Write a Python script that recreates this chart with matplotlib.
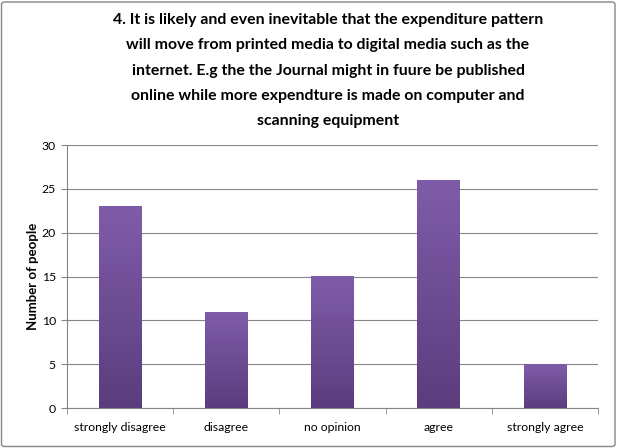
import matplotlib
matplotlib.use("Agg")
import matplotlib.pyplot as plt
import numpy as np
from matplotlib.patches import FancyBboxPatch
from matplotlib.colors import LinearSegmentedColormap

categories = ["strongly disagree", "disagree", "no opinion", "agree", "strongly agree"]
values = [23, 11, 15, 26, 5]
title = ("4. It is likely and even inevitable that the expenditure pattern\n"
         "will move from printed media to digital media such as the\n"
         "internet. E.g the the Journal might in fuure be published\n"
         "online while more expendture is made on computer and\n"
         "scanning equipment")
ylabel = "Number of people"

plt.rcParams['font.family'] = ['Lato', 'DejaVu Sans']

W, H = 617, 448
fig = plt.figure(figsize=(W/100, H/100), dpi=100)
fig.patch.set_facecolor('white')

border = FancyBboxPatch((1.5/W, 1.5/H), 1-3.5/W, 1-3.5/H, boxstyle="round,pad=0,rounding_size=0.005",
                        transform=fig.transFigure, fill=False, edgecolor='#868686', linewidth=1.0)
fig.patches.append(border)

left, right = 67/W, 598/W
bottom, top = 1-408/H, 1-145/H
ax = fig.add_axes([left, bottom, right-left, top-bottom])

x = np.arange(len(categories))
bars = ax.bar(x, values, width=0.4, color='#6E4E96', edgecolor='none', zorder=2)

grad = np.linspace(0, 1, 256).reshape(-1, 1)
cmap = LinearSegmentedColormap.from_list('p', ['#5B3D7E', '#7F5CA9'])
for b in bars:
    bx, by, bw, bh = b.get_x(), b.get_y(), b.get_width(), b.get_height()
    im = ax.imshow(grad, extent=[bx, bx+bw, by, by+bh], origin='lower', cmap=cmap,
                   aspect='auto', zorder=3)
    im.set_clip_path(b)

ax.set_xlim(-0.5, len(categories)-0.5)
ax.set_ylim(0, 30)
ax.set_yticks(np.arange(0, 31, 5))
ax.set_xticks(x)
ax.set_xticklabels(categories, fontsize=8.8)
ax.set_xticks(np.arange(-0.5, len(categories), 1), minor=True)
ax.tick_params(axis='x', which='major', length=0, pad=10)
ax.tick_params(axis='x', which='minor', length=4, color='#868686', direction='out')
ax.tick_params(axis='y', length=4, color='#868686', labelsize=8.8, direction='out', pad=4)
ax.yaxis.grid(True, color='#868686', linewidth=0.8, zorder=0)
ax.set_axisbelow(True)
for s in ['top', 'right']:
    ax.spines[s].set_visible(False)
for s in ['left', 'bottom']:
    ax.spines[s].set_color('#868686')
    ax.spines[s].set_linewidth(0.8)

ax.set_ylabel(ylabel, fontsize=9.5, fontweight='bold', labelpad=2)

fig.text(328/W, 1-13/H, title, ha='center', va='top', fontsize=11.4, fontweight='bold',
         linespacing=2.03)

fig.savefig('out.png', dpi=100)
